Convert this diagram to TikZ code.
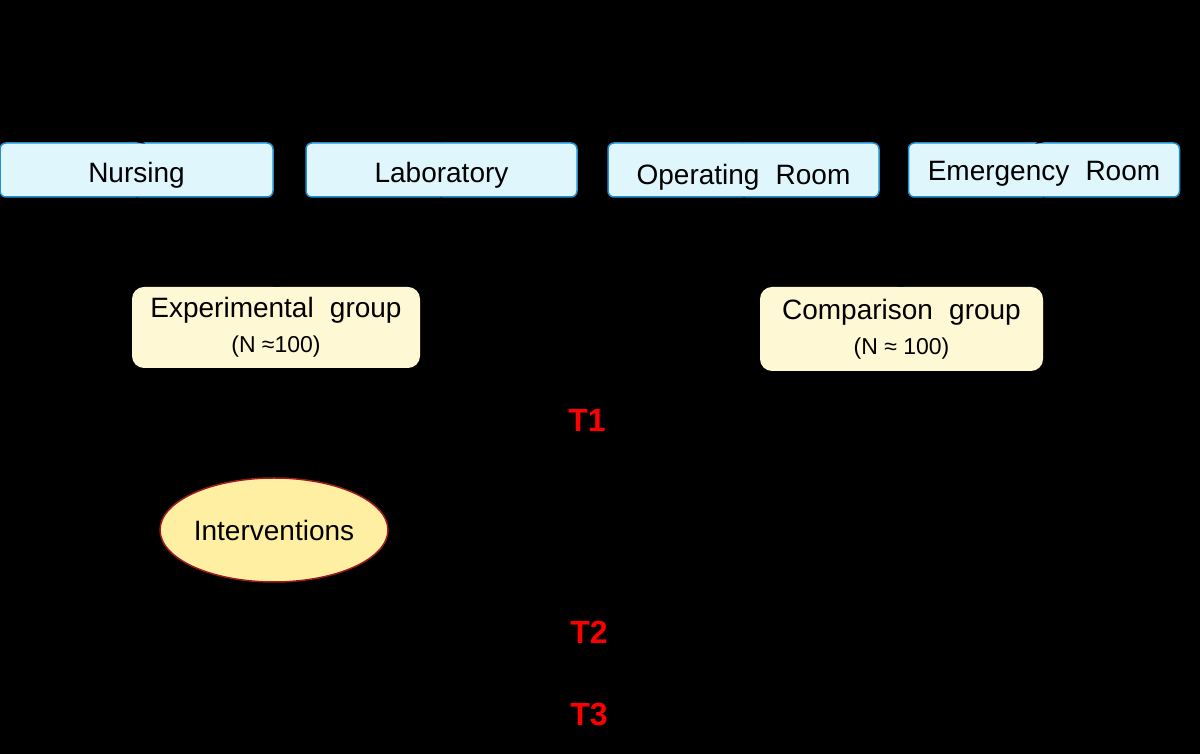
\documentclass[tikz,border=0pt]{standalone}
\usepackage{fontspec}
\setmainfont{Liberation Sans}
\usetikzlibrary{shapes.geometric,arrows.meta}
\definecolor{deptfill}{HTML}{DFF7FC}
\definecolor{deptdraw}{HTML}{2290D0}
\definecolor{grpfill}{HTML}{FFF8D4}
\definecolor{intfill}{HTML}{FFEFA3}
\definecolor{intdraw}{HTML}{9E1B1B}
\definecolor{tred}{HTML}{FF0000}
\begin{document}
\begin{tikzpicture}[x=1pt,y=1pt,
  dept/.style={draw=deptdraw, line width=1.5pt, fill=deptfill, rounded corners=6pt,
    minimum width=271pt, minimum height=54pt, inner sep=0pt,
    text height=26pt, text depth=0pt,
    font=\fontsize{28}{32}\selectfont},
  grp/.style={fill=grpfill, rounded corners=12pt, inner sep=0pt,
    align=center, font=\fontsize{28}{35}\selectfont},
  interv/.style={ellipse, draw=intdraw, line width=1.5pt, fill=intfill,
    minimum width=228pt, minimum height=104pt, inner sep=0pt,
    font=\fontsize{28}{32}\selectfont},
  tlabel/.style={text=tred, font=\fontsize{32}{36}\selectfont\bfseries, inner sep=0pt},
  conn/.style={draw=black, line width=1pt, -{Stealth[length=8pt]}},
  nsize/.style={font=\fontsize{23}{26}\selectfont}]
\fill[black] (0,0) rectangle (1200,754);
\useasboundingbox (0,0) rectangle (1200,754);

\coordinate (src) at (590,700);

\node[dept, minimum width=273pt] (nurs) at (136.5,584) {Nursing};
\node[dept] (lab) at (441.5,584) {Laboratory};
\node[dept, text height=30pt] (or) at (743.5,584) {Operating\hspace{0.3em} Room};
\node[dept, text height=22pt] (er) at (1044,584) {Emergency\hspace{0.3em} Room};

\node[grp, minimum width=288pt, minimum height=81pt] (exp) at (276,426.5)
  {Experimental\hspace{0.3em} group\\{\fontsize{23}{26}\selectfont (N ≈100)}};
\node[grp, minimum width=283pt, minimum height=84pt] (cmp) at (901.5,425)
  {Comparison\hspace{0.3em} group\\{\fontsize{23}{26}\selectfont (N ≈ 100)}};

\node[interv] (int) at (274,224) {Interventions};

\node[tlabel] (t1) at (587,333) {T1};
\node[tlabel] (t2) at (589,122) {T2};
\node[tlabel] (t3) at (589,39) {T3};

\coordinate (bot) at (274,20);

% connectors (black on the black ground, as in the reference)
\draw[conn] (src) -- (nurs.north);
\draw[conn] (src) -- (lab.north);
\draw[conn] (src) -- (or.north);
\draw[conn] (src) -- (er.north);
\draw[conn] (nurs.south) -- (exp.north);
\draw[conn] (lab.south) -- (exp.north);
\draw[conn] (or.south) -- (cmp.north);
\draw[conn] (er.south) -- (cmp.north);
\draw[conn] (exp.south) -- (int.north);
\draw[conn] (int.south) -- (bot);
\end{tikzpicture}
\end{document}
